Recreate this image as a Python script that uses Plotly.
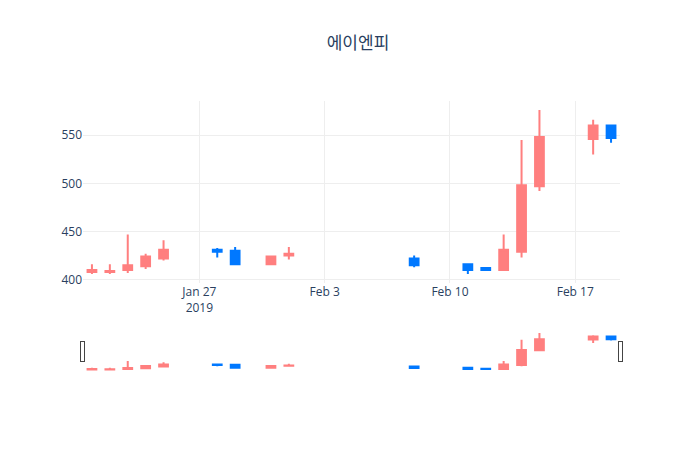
import plotly.graph_objects as go

dates = ["2019-01-21","2019-01-22","2019-01-23","2019-01-24","2019-01-25",
         "2019-01-28","2019-01-29","2019-01-31","2019-02-01","2019-02-08",
         "2019-02-11","2019-02-12","2019-02-13","2019-02-14","2019-02-15",
         "2019-02-18","2019-02-19"]
opens  = [408,408,410,414,422,431,430,416,425,422,416,412,410,429,497,546,560]
highs  = [416,416,447,427,441,433,434,425,434,425,416,413,447,545,576,566,560]
lows   = [406,406,407,411,420,423,416,415,421,413,406,409,409,423,492,530,542]
closes = [410,409,415,424,431,429,416,424,427,415,410,410,431,498,548,560,547]

fig = go.Figure(go.Candlestick(
    x=dates, open=opens, high=highs, low=lows, close=closes,
    increasing=dict(line=dict(color="#FF7F7F"), fillcolor="#FF7F7F"),
    decreasing=dict(line=dict(color="#0078FF"), fillcolor="#0078FF"),
))
fig.update_layout(
    template="plotly_white",
    title=dict(text="에이엔피", x=0.5, xanchor="center", y=0.922, yanchor="middle"),
    width=700, height=450,
    margin=dict(l=75, r=88, t=93, b=87),
    font=dict(family="Open Sans, Noto Sans CJK KR"),
)
fig.update_xaxes(gridcolor="#EEEEEE")
fig.update_yaxes(gridcolor="#EEEEEE")
fig.write_html("out.html")
